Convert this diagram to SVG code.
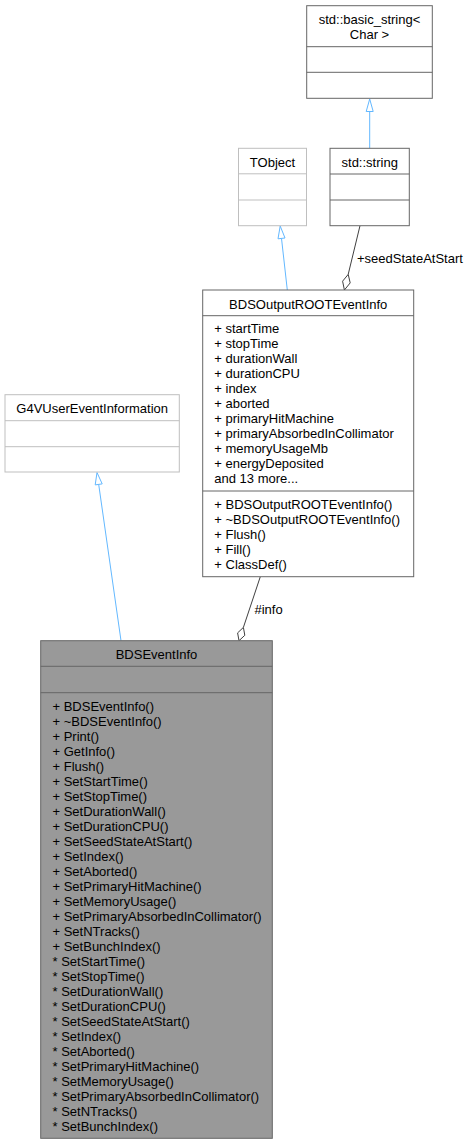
<svg xmlns="http://www.w3.org/2000/svg" width="470" height="1144" viewBox="0 0 470 1144">
<style>
text{font-family:"Liberation Sans",Arial,sans-serif;font-size:13px;fill:#000}
.t{text-anchor:middle}
.box{fill:#fff;stroke:#666;stroke-width:1}
.lbox{fill:#fff;stroke:#bfbfbf;stroke-width:1}
.gbox{fill:#999;stroke:#666;stroke-width:1}
.inh{stroke:#63b8ff;stroke-width:1;fill:none}
.inhh{stroke:#63b8ff;stroke-width:1;fill:#fff}
.use{stroke:#404040;stroke-width:1;fill:none}
.useh{stroke:#404040;stroke-width:1;fill:#fff}
</style>
<rect width="470" height="1144" fill="#fff"/>
<g id="connectors">
<line class="inh" x1="369.7" y1="148.3" x2="369.7" y2="111.5"/>
<polygon class="inhh" points="369.7,99 373.2,111.5 366.2,111.5"/>
<line class="inh" x1="287.3" y1="290" x2="281.5" y2="238.4"/>
<polygon class="inhh" points="280.2,226 285,238 278,238.8"/>
<line class="use" x1="360" y1="225.7" x2="348.2" y2="274.4"/>
<polygon class="useh" points="344.4,290 350.2,282.9 348.2,274.4 342.6,281.2"/>
<text x="357" y="263">+seedStateAtStart</text>
<line class="inh" x1="121" y1="640.7" x2="98.7" y2="484.4"/>
<polygon class="inhh" points="97,472.5 102.2,483.9 95.2,484.9"/>
<line class="use" x1="260.3" y1="576.7" x2="243.4" y2="627.4"/>
<polygon class="useh" points="239,640.7 244.8,635.3 243.4,627.4 237.6,632.9"/>
<text x="254.5" y="614">#info</text>
</g>
<g id="basic_string">
<rect class="box" x="306.7" y="5.7" width="125.6" height="92.6"/>
<line class="box" x1="306.7" y1="46.7" x2="432.3" y2="46.7"/>
<line class="box" x1="306.7" y1="72.3" x2="432.3" y2="72.3"/>
<text class="t" x="369.5" y="24.3">std::basic_string&lt;</text>
<text class="t" x="369.5" y="39">Char &gt;</text>
</g>
<g id="std_string">
<rect class="box" x="330" y="148.3" width="79.3" height="77.4"/>
<line class="box" x1="330" y1="174" x2="409.3" y2="174"/>
<line class="box" x1="330" y1="200" x2="409.3" y2="200"/>
<text class="t" x="369.7" y="166.8">std::string</text>
</g>
<g id="TObject">
<rect class="lbox" x="238.5" y="148.3" width="68" height="77.4"/>
<line class="lbox" x1="238.5" y1="173.8" x2="306.5" y2="173.8"/>
<line class="lbox" x1="238.5" y1="200" x2="306.5" y2="200"/>
<text class="t" x="272.5" y="166.8">TObject</text>
</g>
<g id="BDSOutputROOTEventInfo">
<rect class="box" x="202.7" y="290" width="211" height="286.7"/>
<line class="box" x1="202.7" y1="315.7" x2="413.7" y2="315.7"/>
<line class="box" x1="202.7" y1="491" x2="413.7" y2="491"/>
<text class="t" x="308.2" y="308.8">BDSOutputROOTEventInfo</text>
<text x="214.3" y="333.4">+ startTime</text>
<text x="214.3" y="348.4">+ stopTime</text>
<text x="214.3" y="363.4">+ durationWall</text>
<text x="214.3" y="378.4">+ durationCPU</text>
<text x="214.3" y="393.4">+ index</text>
<text x="214.3" y="408.4">+ aborted</text>
<text x="214.3" y="423.4">+ primaryHitMachine</text>
<text x="214.3" y="438.4">+ primaryAbsorbedInCollimator</text>
<text x="214.3" y="453.4">+ memoryUsageMb</text>
<text x="214.3" y="468.4">+ energyDeposited</text>
<text x="214.3" y="483.4">and 13 more...</text>
<text x="214.3" y="508.6">+ BDSOutputROOTEventInfo()</text>
<text x="214.3" y="523.6">+ ~BDSOutputROOTEventInfo()</text>
<text x="214.3" y="538.6">+ Flush()</text>
<text x="214.3" y="553.6">+ Fill()</text>
<text x="214.3" y="568.6">+ ClassDef()</text>
</g>
<g id="G4VUserEventInformation">
<rect class="lbox" x="5" y="394.7" width="174.3" height="77.3"/>
<line class="lbox" x1="5" y1="420.7" x2="179.3" y2="420.7"/>
<line class="lbox" x1="5" y1="446.7" x2="179.3" y2="446.7"/>
<text class="t" x="92.2" y="413">G4VUserEventInformation</text>
</g>
<g id="BDSEventInfo">
<rect class="gbox" x="40.7" y="640.7" width="231.6" height="497.6"/>
<line class="gbox" x1="40.7" y1="666.3" x2="272.3" y2="666.3"/>
<line class="gbox" x1="40.7" y1="692.7" x2="272.3" y2="692.7"/>
<text class="t" x="156.5" y="659">BDSEventInfo</text>
<text x="52.5" y="710.5">+ BDSEventInfo()</text>
<text x="52.5" y="725.5">+ ~BDSEventInfo()</text>
<text x="52.5" y="740.5">+ Print()</text>
<text x="52.5" y="755.5">+ GetInfo()</text>
<text x="52.5" y="770.5">+ Flush()</text>
<text x="52.5" y="785.5">+ SetStartTime()</text>
<text x="52.5" y="800.5">+ SetStopTime()</text>
<text x="52.5" y="815.5">+ SetDurationWall()</text>
<text x="52.5" y="830.5">+ SetDurationCPU()</text>
<text x="52.5" y="845.5">+ SetSeedStateAtStart()</text>
<text x="52.5" y="860.5">+ SetIndex()</text>
<text x="52.5" y="875.5">+ SetAborted()</text>
<text x="52.5" y="890.5">+ SetPrimaryHitMachine()</text>
<text x="52.5" y="905.5">+ SetMemoryUsage()</text>
<text x="52.5" y="920.5">+ SetPrimaryAbsorbedInCollimator()</text>
<text x="52.5" y="935.5">+ SetNTracks()</text>
<text x="52.5" y="950.5">+ SetBunchIndex()</text>
<text x="52.5" y="965.5">* SetStartTime()</text>
<text x="52.5" y="980.5">* SetStopTime()</text>
<text x="52.5" y="995.5">* SetDurationWall()</text>
<text x="52.5" y="1010.5">* SetDurationCPU()</text>
<text x="52.5" y="1025.5">* SetSeedStateAtStart()</text>
<text x="52.5" y="1040.5">* SetIndex()</text>
<text x="52.5" y="1055.5">* SetAborted()</text>
<text x="52.5" y="1070.5">* SetPrimaryHitMachine()</text>
<text x="52.5" y="1085.5">* SetMemoryUsage()</text>
<text x="52.5" y="1100.5">* SetPrimaryAbsorbedInCollimator()</text>
<text x="52.5" y="1115.5">* SetNTracks()</text>
<text x="52.5" y="1130.5">* SetBunchIndex()</text>
</g>
</svg>
